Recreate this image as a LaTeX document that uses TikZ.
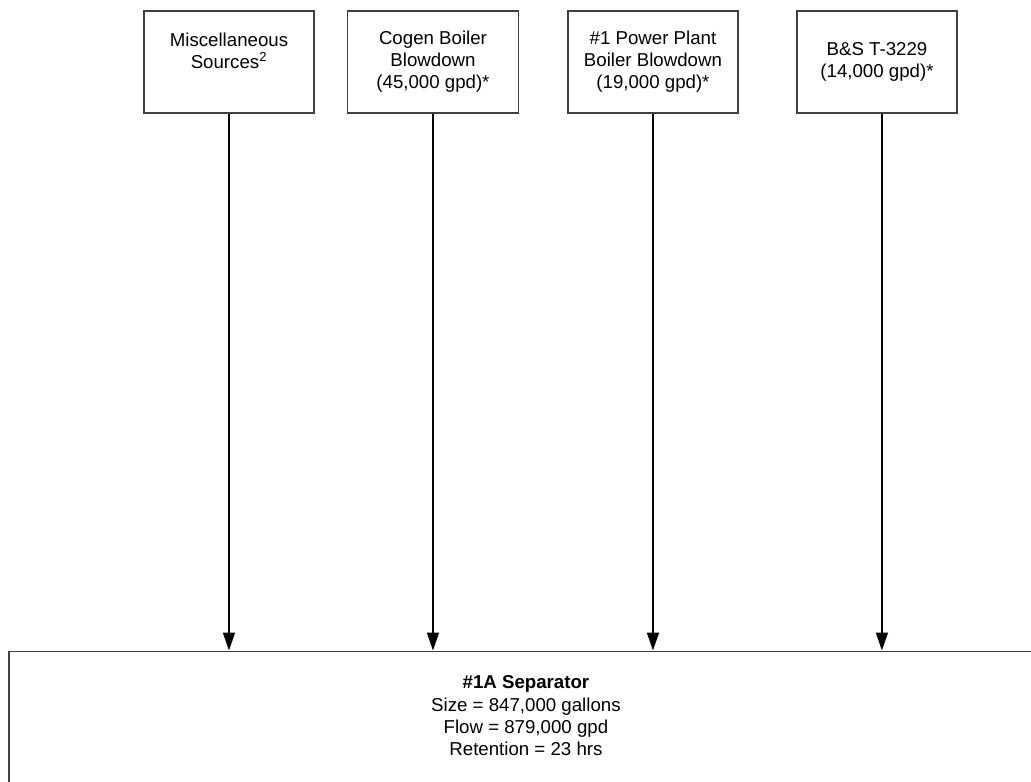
\documentclass[tikz,border=0pt]{standalone}
\usepackage{fontspec}
\setmainfont{Liberation Sans}
\usetikzlibrary{arrows.meta,positioning}
\tikzset{
    srcbox/.style = {draw=black!75, line width=1.4pt, rectangle,
        minimum height=2.689cm, align=center, inner sep=0pt,
        font=\fontsize{14}{16.4}\selectfont},
    sepbox/.style = {draw=black!75, line width=1.4pt, rectangle,
        minimum width=27.256cm, minimum height=5cm, inner sep=0pt},
    septext/.style = {align=center, inner sep=0pt,
        font=\fontsize{14}{16.7}\selectfont},
    flow/.style = {draw, ->, line width=1.3pt}
}

\begin{document}
\begin{tikzpicture}[auto, node distance=2cm, >={Triangle[length=13.5pt,width=9pt]}]
        \useasboundingbox (0,0) rectangle (27.177,-20.587);
        \node [srcbox, minimum width=4.481cm] (misc) at (6.036,-1.634) {Miscellaneous\\ Sources\textsuperscript{2}\\ \mbox{}};
        \node [srcbox, minimum width=4.508cm, right of=misc, node distance=5.377cm] (cogen) {Cogen Boiler\\ Blowdown\\ (45,000 gpd)*};
        \node [srcbox, minimum width=4.481cm, right of=cogen, node distance=5.799cm] (pp) {\#1 Power Plant\\ Boiler Blowdown\\ (19,000 gpd)*};
        \node [srcbox, minimum width=4.218cm, right of=pp, node distance=5.905cm] (bs) {B\&S T-3229\\ (14,000 gpd)*};
        % separator runs off the page to the right and below
        \node [sepbox, anchor=north west] (sep) at (0.211,-17.147) {};
        \node [septext, below=0.66cm of sep.north] (septxt) {\textbf{\#1A Separator}\\ Size = 847,000 gallons\\ Flow = 879,000 gpd\\ Retention = 23 hrs};
        \draw [flow] (misc) -- (misc |- sep.north);
        \draw [flow] (cogen) -- (cogen |- sep.north);
        \draw [flow] (pp) -- (pp |- sep.north);
        \draw [flow] ([xshift=0.13cm]bs.south) -- ([xshift=0.13cm]bs.south |- sep.north);
\end{tikzpicture}
\end{document}
